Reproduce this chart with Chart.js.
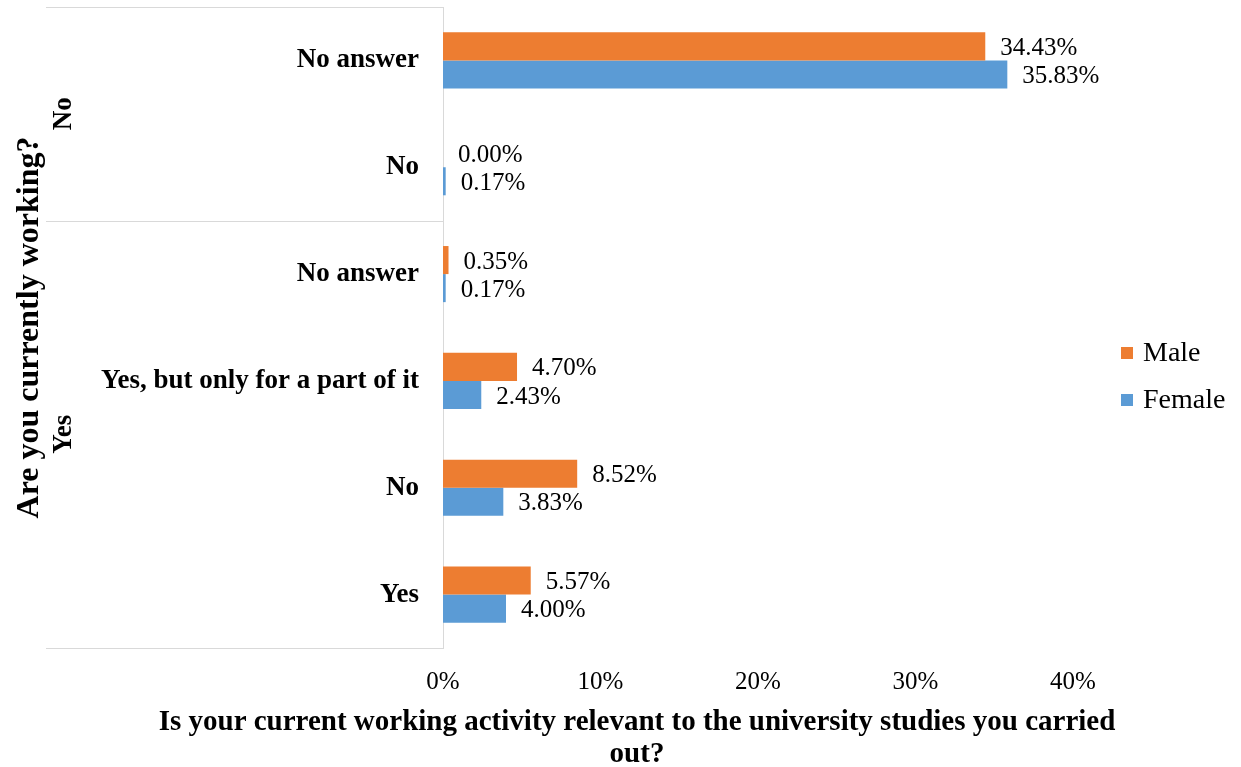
<!DOCTYPE html>
<html>
<head>
<meta charset="utf-8">
<script src="https://cdn.jsdelivr.net/npm/chart.js@4.4.1/dist/chart.umd.min.js"></script>
<style>
html,body{margin:0;padding:0;background:#fff;}
#wrap{width:1241px;height:767px;position:relative;}
</style>
</head>
<body>
<div id="wrap"><canvas id="chart"></canvas></div>
<script>
// Data
const categories=['No answer','No','No answer','Yes, but only for a part of it','No','Yes'];
const groups=['No','No','Yes','Yes','Yes','Yes'];
const male=[34.43,0.00,0.35,4.70,8.52,5.57];
const female=[35.83,0.17,0.17,2.43,3.83,4.00];
const seriesNames=['Male','Female'];
const xTitle=['Is your current working activity relevant to the university studies you carried','out?'];
const yTitle='Are you currently working?';

const SERIF='"Liberation Serif","Times New Roman",serif';
const LINE='#d9d9d9';

const extras={
  id:'extras',
  afterDatasetsDraw(chart){
    const ctx=chart.ctx;
    ctx.save();
    ctx.font='25px '+SERIF;
    ctx.fillStyle='#000';
    ctx.textAlign='left';
    ctx.textBaseline='middle';
    chart.data.datasets.forEach((ds,i)=>{
      chart.getDatasetMeta(i).data.forEach((bar,j)=>{
        ctx.fillText(ds.data[j].toFixed(2)+'%',bar.x+15,bar.y+2);
      });
    });
    ctx.restore();
  },
  afterDraw(chart){
    const ctx=chart.ctx, a=chart.chartArea, ys=chart.scales.y;
    ctx.save();
    // group separator lines
    const bounds=[a.top];
    for(let i=1;i<groups.length;i++){
      if(groups[i]!==groups[i-1]) bounds.push((ys.getPixelForValue(i-1)+ys.getPixelForValue(i))/2);
    }
    bounds.push(a.bottom);
    ctx.strokeStyle=LINE;ctx.lineWidth=1;
    bounds.forEach(y=>{
      ctx.beginPath();ctx.moveTo(46,Math.round(y)+0.5);ctx.lineTo(a.left,Math.round(y)+0.5);ctx.stroke();
    });
    // group labels
    ctx.font='bold 27px '+SERIF;
    ctx.fillStyle='#000';
    ctx.textAlign='center';ctx.textBaseline='middle';
    for(let b=0;b<bounds.length-1;b++){
      const mid=(bounds[b]+bounds[b+1])/2;
      const idx=b===0?0:groups.length-1;
      ctx.save();ctx.translate(64,mid);ctx.rotate(-Math.PI/2);
      ctx.fillText(groups[idx],0,0);ctx.restore();
    }
    // x axis title
    ctx.font='bold 29px '+SERIF;
    ctx.fillText(xTitle[0],637,723);
    ctx.fillText(xTitle[1],637,755);
    // legend
    ctx.font='28px '+SERIF;
    ctx.textAlign='left';
    chart.data.datasets.forEach((ds,i)=>{
      const y=353+i*47;
      ctx.fillStyle=ds.backgroundColor;
      ctx.fillRect(1121,y-6,12,12);
      ctx.fillStyle='#000';
      ctx.fillText(ds.label,1143,y+1);
    });
    ctx.restore();
  }
};

new Chart(document.getElementById('chart'),{
  type:'bar',
  data:{
    labels:categories,
    datasets:[
      {label:seriesNames[0],data:male,backgroundColor:'#ED7D31'},
      {label:seriesNames[1],data:female,backgroundColor:'#5B9BD5'}
    ]
  },
  options:{
    indexAxis:'y',
    responsive:true,
    maintainAspectRatio:false,
    animation:false,
    categoryPercentage:0.525,
    barPercentage:1.0,
    layout:{padding:{top:7,right:168,bottom:0,left:0}},
    plugins:{legend:{display:false},tooltip:{enabled:false}},
    scales:{
      x:{
        min:0,max:40,
        grid:{display:false},
        border:{display:false},
        ticks:{stepSize:10,color:'#000',padding:11,font:{size:25,family:SERIF},callback:v=>v+'%'},
        afterFit:s=>{s.height=119;s.paddingLeft=0;s.paddingRight=0;}
      },
      y:{
        grid:{display:false},
        border:{display:true,color:LINE,width:1},
        ticks:{color:'#000',padding:16,autoSkip:false,font:{size:27,weight:'bold',family:SERIF}},
        title:{display:true,text:yTitle,color:'#000',padding:{top:11,bottom:0},font:{size:32,weight:'bold',family:SERIF}},
        afterFit:s=>{s.width=443;s.paddingTop=0;s.paddingBottom=0;}
      }
    }
  },
  plugins:[extras]
});
</script>
</body>
</html>
